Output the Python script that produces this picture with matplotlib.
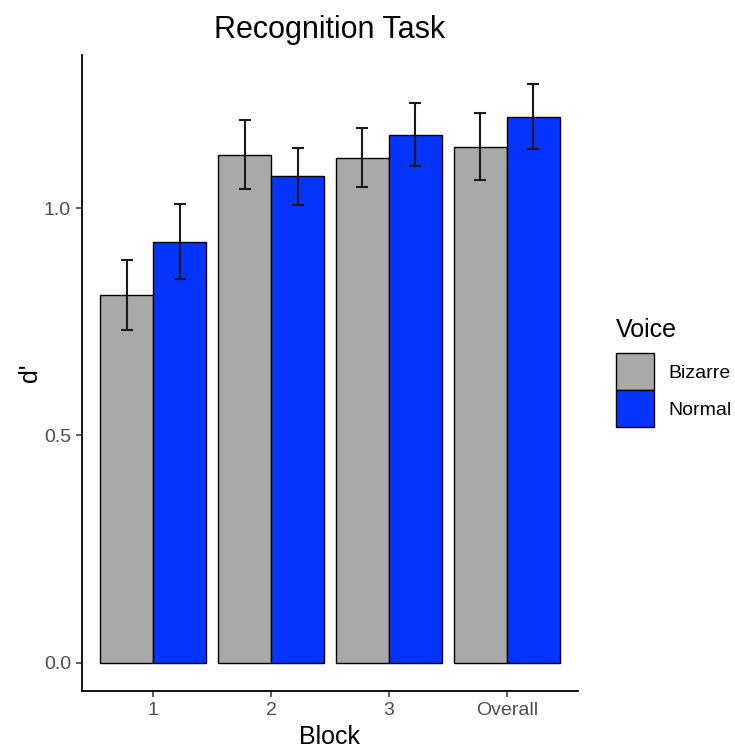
import matplotlib
matplotlib.use("Agg")
import matplotlib.pyplot as plt
import numpy as np
from matplotlib.patches import Patch

plt.rcParams["font.family"] = ["Liberation Sans", "DejaVu Sans"]

blocks = ["1", "2", "3", "Overall"]
voices = ["Bizarre", "Normal"]
bizarre = [0.809, 1.118, 1.111, 1.134]
bizarre_lo = [0.731, 1.043, 1.046, 1.062]
bizarre_hi = [0.886, 1.193, 1.177, 1.209]
normal = [0.925, 1.070, 1.160, 1.201]
normal_lo = [0.843, 1.007, 1.092, 1.130]
normal_hi = [1.010, 1.132, 1.231, 1.273]
yticks = [0.0, 0.5, 1.0]

colors = ["#A9A9A9", "#0533FF"]

W, H = 735, 749
fig = plt.figure(figsize=(W / 100, H / 100), dpi=100)
ax = fig.add_axes([82 / W, 1 - 691 / H, (578 - 82) / W, (691 - 55) / H])

x = np.arange(len(blocks))
bw = 0.45
series = [(bizarre, bizarre_lo, bizarre_hi), (normal, normal_lo, normal_hi)]
for i, (vals, lo, hi) in enumerate(series):
    xs = x + (i - 0.5) * bw
    ax.bar(xs, vals, width=bw, color=colors[i], edgecolor="black", linewidth=1.0, zorder=2)
    vals_a = np.array(vals)
    yerr = [vals_a - np.array(lo), np.array(hi) - vals_a]
    ax.errorbar(xs, vals, yerr=yerr, fmt="none", ecolor="#1a1a1a", elinewidth=1.5,
                capsize=4, capthick=1.5, zorder=3)

ax.set_xlim(-0.605, 3.605)
ax.set_ylim(-0.0625, 1.337)
ax.set_xticks(x)
ax.set_xticklabels(blocks)
ax.set_yticks(yticks)
ax.set_yticklabels([f"{v:.1f}" for v in yticks])
for s in ["top", "right"]:
    ax.spines[s].set_visible(False)
for s in ["left", "bottom"]:
    ax.spines[s].set_linewidth(1.3)
    ax.spines[s].set_color("black")
ax.tick_params(axis="both", colors="#333333", labelcolor="#4D4D4D", labelsize=14,
               length=4, width=1.1, pad=4)

ax.set_xlabel("Block", fontsize=18)
ax.set_ylabel("d'", fontsize=18)
ax.xaxis.set_label_coords(0.5, (691 - 725) / 636)
ax.yaxis.set_label_coords((42 - 82) / 496, 0.5)
fig.text(330 / W, 1 - 38 / H, "Recognition Task", fontsize=22, ha="center", va="baseline")

handles = [Patch(facecolor=colors[i], edgecolor="black", linewidth=1.0, label=voices[i])
           for i in range(2)]
leg = fig.legend(handles=handles, title="Voice", loc="upper left",
                 bbox_to_anchor=(616 / W, 1 - 318 / H), frameon=False,
                 fontsize=14, title_fontsize=18, handlelength=1.96, handleheight=2.55,
                 labelspacing=0.0, handletextpad=0.72, borderpad=0.0, borderaxespad=0.0)
leg._legend_box.align = "left"
leg._legend_box.sep = 8

fig.savefig("out.png", dpi=100)
